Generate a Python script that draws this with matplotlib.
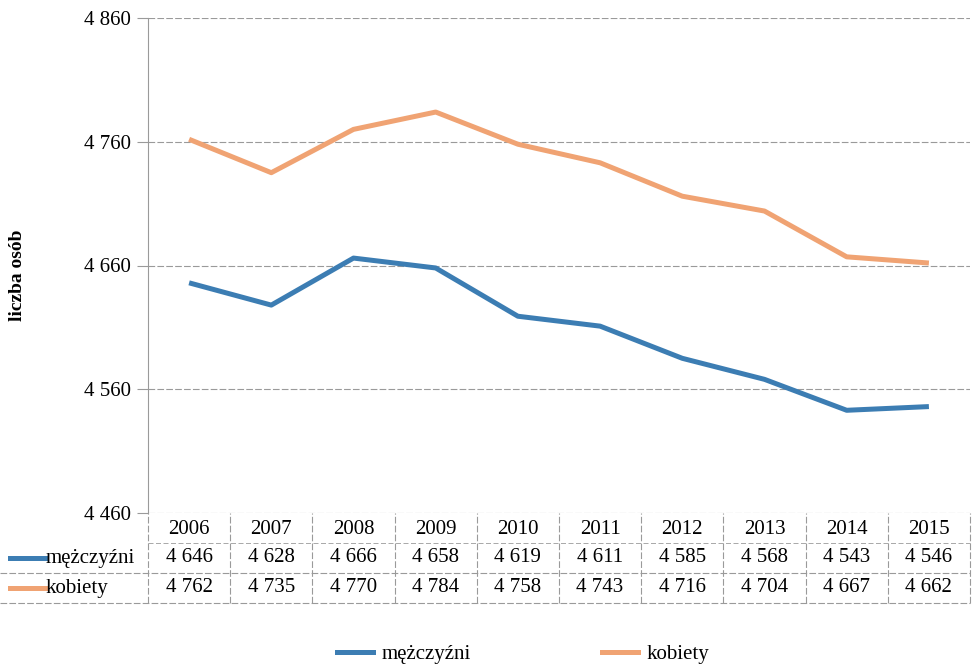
import matplotlib
matplotlib.use("Agg")
import matplotlib.pyplot as plt
from matplotlib.lines import Line2D

years = ["2006", "2007", "2008", "2009", "2010", "2011", "2012", "2013", "2014", "2015"]
men = [4646, 4628, 4666, 4658, 4619, 4611, 4585, 4568, 4543, 4546]
women = [4762, 4735, 4770, 4784, 4758, 4743, 4716, 4704, 4667, 4662]
yticks = [4460, 4560, 4660, 4760, 4860]
series_names = ["mężczyźni", "kobiety"]

BLUE = "#3c7db3"
ORANGE = "#f0a373"
GRID = "#9a9a9a"
FONT = "Liberation Serif"
FS = 15

def fmt(v):
    s = str(v)
    return s[0] + " " + s[1:]

plt.rcParams['font.family'] = [FONT, 'DejaVu Serif']
W, H = 974, 665
fig = plt.figure(figsize=(W / 100, H / 100), dpi=100)

L, R, T, B = 148, 970, 18, 513
ax = fig.add_axes([L / W, 1 - B / H, (R - L) / W, (B - T) / H])
x = list(range(len(years)))
ax.plot(x, men, color=BLUE, lw=3.6, solid_capstyle='butt')
ax.plot(x, women, color=ORANGE, lw=3.6, solid_capstyle='butt')
ax.set_xlim(-0.5, len(years) - 0.5)
ax.set_ylim(yticks[0], yticks[-1])
ax.set_yticks(yticks)
ax.set_yticklabels([fmt(v) for v in yticks], fontsize=FS)
ax.set_xticks([])
for s in ["top", "right", "bottom"]:
    ax.spines[s].set_visible(False)
ax.spines["left"].set_color(GRID)
ax.spines["left"].set_linewidth(0.8)
ax.tick_params(axis='y', length=8, color=GRID, pad=4)
for v in yticks:
    ax.axhline(v, color=GRID, lw=0.8, ls=(0, (6, 2)), zorder=0)
ax.set_ylabel("liczba osób", fontsize=14, fontweight='bold', labelpad=38)
ax.yaxis.set_label_coords(-0.148, 0.48)

# data table
tb_top, tb_bot = 513, 603
tax = fig.add_axes([L / W, 1 - tb_bot / H, (R - L) / W, (tb_bot - tb_top) / H])
tax.set_xlim(-0.5, len(years) - 0.5)
tax.set_ylim(0, 3)
tax.axis('off')
colw = (R - L) / len(years)
xleft = -0.5 - L / colw
for i in range(len(years) + 1):
    tax.plot([i - 0.5, i - 0.5], [0, 3], color=GRID, lw=0.8, ls=(0, (6, 2)), clip_on=False)
tax.plot([-0.5, len(years) - 0.5], [2, 2], color=GRID, lw=0.6, ls=(0, (6, 3)), clip_on=False)
for yy in [0, 1]:
    tax.plot([xleft, len(years) - 0.5], [yy, yy], color=GRID, lw=0.8, ls=(0, (6, 2)), clip_on=False)
for i, y in enumerate(years):
    tax.text(i, 2.45, y, ha='center', va='center', fontsize=FS)
for i, v in enumerate(men):
    tax.text(i, 1.5, fmt(v), ha='center', va='center', fontsize=FS)
for i, v in enumerate(women):
    tax.text(i, 0.5, fmt(v), ha='center', va='center', fontsize=FS)
for row, name, col in [(1.5, series_names[0], BLUE), (0.5, series_names[1], ORANGE)]:
    tax.plot([xleft + 0.12, xleft + 0.55], [row, row], color=col, lw=3.6, clip_on=False)
    tax.text(xleft + 0.56, row, name, ha='left', va='center', fontsize=FS)

handles = [Line2D([], [], color=BLUE, lw=3.6), Line2D([], [], color=ORANGE, lw=3.6)]
fig.legend(handles, series_names, loc='center', bbox_to_anchor=(0.537, 1 - 654 / H),
           ncol=2, frameon=False, fontsize=FS, handlelength=1.75, columnspacing=6.3, handletextpad=0.4)

fig.savefig("out.png", dpi=100)
